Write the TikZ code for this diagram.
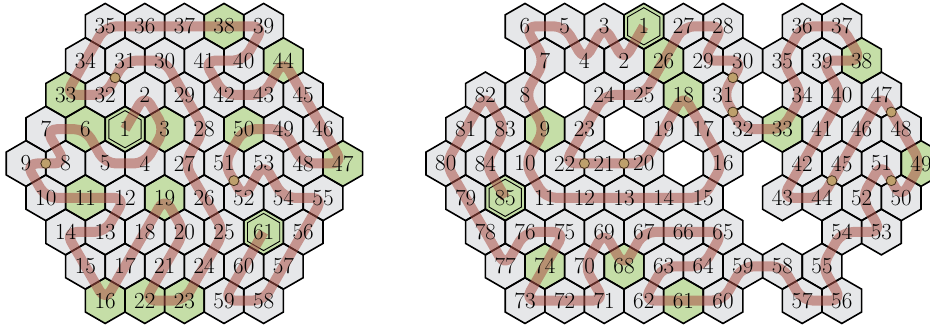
\documentclass[tikz,border=0pt]{standalone}
\usetikzlibrary{calc}
\pgfdeclarelayer{hexfill}
\pgfdeclarelayer{hexline}
\pgfdeclarelayer{trail}
\pgfsetlayers{hexfill,hexline,trail,main}
\definecolor{cellgrey}{RGB}{230,231,233}
\definecolor{cellgreen}{RGB}{197,222,167}
\definecolor{trailc}{RGB}{170,80,70}
\definecolor{dotc}{RGB}{190,160,108}
\definecolor{dotline}{RGB}{70,50,30}
\newcommand\hexshape[1]{+(90:#1) -- +(30:#1) -- +(-30:#1) -- +(-90:#1) -- +(-150:#1) -- +(150:#1) -- cycle}
\newcommand\hexcell[5]{%
  \ifcase#5\relax\def\fc{cellgrey}\or\def\fc{cellgreen}\or\def\fc{cellgreen}\fi
  \begin{pgfonlayer}{hexfill}\fill[\fc] (#3,#4) \hexshape{22.86};\end{pgfonlayer}
  \begin{pgfonlayer}{hexline}\draw[hexborder] (#3,#4) \hexshape{22.86};
    \ifnum#5=2 \draw[innerborder] (#3,#4) \hexshape{18.6};\fi\end{pgfonlayer}
  \node[lbl] (#1#2) at (#3,#4) {#2};}
\newcommand\hexrow[3]{\foreach \n/\x/\k in {#3}{\hexcell{#1}{\n}{\x}{#2}{\k}}}
\tikzset{
  lbl/.style={inner sep=0pt, font=\fontsize{23}{23}\selectfont},
  hexborder/.style={draw=black, line width=1.6pt},
  innerborder/.style={draw=black, line width=0.9pt},
  trail/.style={draw=trailc, draw opacity=0.55, line width=10pt, rounded corners=11pt, line join=round},
  crossdot/.style={circle, fill=dotc, draw=dotline, line width=0.8pt, minimum size=10pt, inner sep=0pt},
}
\begin{document}
\begin{tikzpicture}[x=1pt,y=-1pt]
\useasboundingbox (0,0) rectangle (930,326);
% left grid
\hexrow{L}{26.3}{35/105.2/0, 36/144.8/0, 37/184.4/0, 38/224.0/1, 39/263.6/0}
\hexrow{L}{60.6}{34/85.4/0, 31/125.0/0, 30/164.6/0, 41/204.2/0, 40/243.8/0, 44/283.4/1}
\hexrow{L}{94.9}{33/65.6/1, 32/105.2/0, 2/144.8/0, 29/184.4/0, 42/224.0/0, 43/263.6/0, 45/303.2/0}
\hexrow{L}{129.2}{7/45.8/0, 6/85.4/1, 1/125.0/2, 3/164.6/1, 28/204.2/0, 50/243.8/1, 49/283.4/0, 46/323.0/0}
\hexrow{L}{163.5}{9/26.0/0, 8/65.6/0, 5/105.2/0, 4/144.8/0, 27/184.4/0, 51/224.0/0, 53/263.6/0, 48/303.2/0, 47/342.8/1}
\hexrow{L}{197.8}{10/45.8/0, 11/85.4/1, 12/125.0/0, 19/164.6/1, 26/204.2/0, 52/243.8/0, 54/283.4/0, 55/323.0/0}
\hexrow{L}{232.0}{14/65.6/0, 13/105.2/0, 18/144.8/0, 20/184.4/0, 25/224.0/0, 61/263.6/2, 56/303.2/0}
\hexrow{L}{266.3}{15/85.4/0, 17/125.0/0, 21/164.6/0, 24/204.2/0, 60/243.8/0, 57/283.4/0}
\hexrow{L}{300.6}{16/105.2/1, 22/144.8/1, 23/184.4/1, 59/224.0/0, 58/263.6/0}
% right grid
\hexrow{R}{26.3}{6/525.0/0, 5/564.6/0, 3/604.2/0, 1/643.8/2, 27/683.4/0, 28/723.0/0, 36/802.2/0, 37/841.8/0}
\hexrow{R}{60.6}{7/544.8/0, 4/584.4/0, 2/624.0/0, 26/663.6/1, 29/703.2/0, 30/742.8/0, 35/782.4/0, 39/822.0/0, 38/861.6/1}
\hexrow{R}{94.9}{82/485.4/0, 8/525.0/0, 24/604.2/0, 25/643.8/0, 18/683.4/1, 31/723.0/0, 34/802.2/0, 40/841.8/0, 47/881.4/0}
\hexrow{R}{129.2}{81/465.6/0, 83/505.2/0, 9/544.8/1, 23/584.4/0, 19/663.6/0, 17/703.2/0, 32/742.8/0, 33/782.4/1, 41/822.0/0, 46/861.6/0, 48/901.2/0}
\hexrow{R}{163.5}{80/445.8/0, 84/485.4/0, 10/525.0/0, 22/564.6/0, 21/604.2/0, 20/643.8/0, 16/723.0/0, 42/802.2/0, 45/841.8/0, 51/881.4/0, 49/921.0/1}
\hexrow{R}{197.8}{79/465.6/0, 85/505.2/2, 11/544.8/0, 12/584.4/0, 13/624.0/0, 14/663.6/0, 15/703.2/0, 43/782.4/0, 44/822.0/0, 52/861.6/0, 50/901.2/0}
\hexrow{R}{232.0}{78/485.4/0, 76/525.0/0, 75/564.6/0, 69/604.2/0, 67/643.8/0, 66/683.4/0, 65/723.0/0, 54/841.8/0, 53/881.4/0}
\hexrow{R}{266.3}{77/505.2/0, 74/544.8/1, 70/584.4/0, 68/624.0/1, 63/663.6/0, 64/703.2/0, 59/742.8/0, 58/782.4/0, 55/822.0/0}
\hexrow{R}{300.6}{73/525.0/0, 72/564.6/0, 71/604.2/0, 62/643.8/0, 61/683.4/1, 60/723.0/0, 57/802.2/0, 56/841.8/0}
% trails
\begin{pgfonlayer}{trail}
\draw[trail] (L1.center) \foreach \i in {2,...,61} {-- (L\i.center)};
\draw[trail] (R1.center) \foreach \i in {2,...,85} {-- (R\i.center)};
\end{pgfonlayer}
% crossing marks
\node[crossdot] (dL1) at ($(L8.center)!0.5!(L9.center)$) {};
\node[crossdot] (dL2) at ($(L31.center)!0.5!(L32.center)$) {};
\node[crossdot] (dL3) at ($(L51.center)!0.5!(L52.center)$) {};
\node[crossdot] (dR1) at ($(R21.center)!0.5!(R22.center)$) {};
\node[crossdot] (dR2) at ($(R20.center)!0.5!(R21.center)$) {};
\node[crossdot] (dR3) at ($(R30.center)!0.5!(R31.center)$) {};
\node[crossdot] (dR4) at ($(R31.center)!0.5!(R32.center)$) {};
\node[crossdot] (dR5) at ($(R44.center)!0.5!(R45.center)$) {};
\node[crossdot] (dR6) at ($(R47.center)!0.5!(R48.center)$) {};
\node[crossdot] (dR7) at ($(R50.center)!0.5!(R51.center)$) {};
\end{tikzpicture}
\end{document}
